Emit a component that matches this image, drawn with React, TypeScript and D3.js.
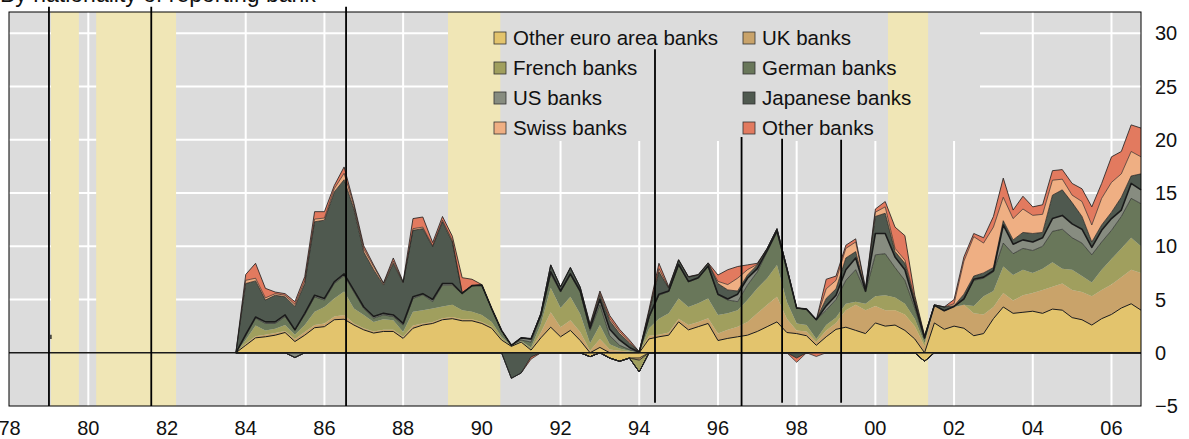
import * as d3 from "d3";

// quarterly observations, 1983 Q4 .. 2006 Q4
const quarters = d3.range(93).map((i) => 1983.75 + i * 0.25);

const otherEuro = [0, 0.7, 1.4, 1.5, 1.65, 1.9, 1.05, 1.65, 2.35, 2.45, 3.1, 3.15, 2.6, 2.15, 1.85, 2.0, 2.0, 1.35, 2.3, 2.6, 2.75, 3.1, 3.2, 3.0, 3.0, 2.75, 2.3, 1.2, 0.6, 1.0, 0.25, 1.4, 2.4, 1.5, 2.1, 1.15, -0.37, 0.5, -0.5, -0.8, -0.5, -0.5, 1.3, 1.5, 1.65, 2.9, 2.15, 2.45, 2.75, 1.15, 1.35, 1.5, 1.65, 2.0, 2.45, 2.9, 1.9, 1.8, 1.6, 0.7, 1.5, 2.2, 2.4, 2.1, 1.8, 2.8, 2.5, 2.6, 2.1, 1.3, -0.8, 2.8, 2.2, 2.5, 2.3, 1.6, 1.8, 3.2, 4.3, 3.7, 3.8, 3.9, 3.7, 4.1, 4.0, 3.3, 3.1, 2.6, 3.2, 3.6, 4.2, 4.6, 4.0];
const ukBanks = [0, 0.15, 0.15, 0.2, 0.2, 0.15, 0.25, 0.3, 0.25, 0.3, 0.3, 0.4, 0.15, 0.15, 0.15, 0.15, 0.15, 0.15, 0.25, 0.15, 0.15, 0.15, 0.15, 0.15, 0.15, 0.15, 0.15, 0.1, 0, 0.05, 0.05, 0.5, 1.4, 0.9, 0.95, 0.8, 0.2, 0.8, 0.3, 0.2, 0.1, -0.2, 0.3, 0.2, 0.25, 0.3, 0.45, 0.45, 0.5, 0.65, 0.8, 0.95, 1.25, 1.7, 2.05, 2.35, 1.3, 0.3, 0.4, 0.3, 0.6, 0.6, 1.6, 2.4, 2.2, 1.6, 1.5, 1.4, 1.5, 1.2, 0.6, 1.6, 1.7, 1.8, 2.2, 2.1, 1.8, 1.1, 1.3, 1.2, 1.6, 1.7, 2.2, 2.1, 2.5, 2.6, 2.6, 2.7, 2.7, 2.8, 2.9, 3.2, 3.5];
const frenchBanks = [0, 0.35, 1.0, 0.4, 0.4, 0.55, 0.4, 0.65, 1.25, 1.55, 1.7, 2.2, 1.4, 1.25, 0.9, 1.0, 0.9, 0.45, 1.3, 1.25, 1.25, 1.1, 1.15, 0.85, 0.7, 0.65, 0.45, 0.2, 0.05, 0.05, 0.2, 0.8, 2.3, 1.8, 2.2, 1.7, 0.7, 1.3, 0.5, 0.2, 0.1, -1.1, 0.7, 1.5, 1.8, 1.9, 1.7, 1.75, 1.85, 1.75, 1.55, 1.55, 2.05, 2.35, 2.5, 3.0, 1.6, 0.65, 0.6, 0.3, 0.5, 0.5, 0.6, 0.3, 0.6, 0.9, 1.4, 1.2, 1.0, 0.7, 0.3, 0, 0, 0, 0, 0.7, 1.7, 1.5, 2.5, 2.4, 2.4, 1.9, 2.0, 2.3, 1.4, 1.9, 1.5, 1.3, 1.9, 2.4, 2.7, 3.0, 2.5];
const germanBanks = [0, 0.4, 0.7, 0.65, 0.5, 0.8, 0.45, 0.95, 1.4, 0.65, 1.4, 1.5, 1.55, 0.6, 0.35, 0.4, 0.35, 0.65, 1.25, 1.45, 0.65, 2.0, 1.85, 1.55, 2.45, 2.8, 1.25, 0.6, 0.05, 0.1, 0.5, 0.8, 1.3, 1.5, 2.05, 2.05, 1.2, 1.9, 0.8, 0.3, 0.1, 0.05, 1.0, 2.2, 2.05, 3.15, 2.35, 2.35, 3.0, 1.9, 1.25, 0.8, 1.4, 1.55, 2.5, 3.1, 3.0, 1.45, 1.5, 1.8, 1.4, 1.7, 2.2, 3.0, 1.1, 3.9, 3.9, 2.8, 2.2, 1.0, 0.4, 0.05, 0.05, 0.05, 0.5, 2.4, 1.7, 1.8, 2.2, 2.0, 2.0, 2.1, 2.1, 2.9, 3.7, 3.0, 3.1, 2.6, 2.6, 2.7, 3.0, 3.7, 4.0];
const usBanks = [0, 0.1, 0.1, 0.15, 0.15, 0.15, -0.45, 0.15, 0.15, 0.15, 0.15, 0.15, 0.15, 0.15, 0.15, 0.15, 0.15, 0.15, 0.15, 0.1, 0.2, 0.15, 0.15, 0.02, 0, 0, 0, 0, 0, 0.2, 0.3, 0.05, 0.2, 0.1, 0.1, 0.1, 0.2, 0.5, 0.6, 0.5, 0.2, 0, 0.1, 0.1, 0.05, 0.05, 0.05, 0.05, 0.05, 0.05, 0.1, 0.7, 0.65, 0.3, 0.1, 0.1, 0.1, 0, 0, 0, 0.4, 0.4, 1.0, 1.1, 0.1, 2.0, 1.9, 1.0, 1.0, 0.4, 0.1, 0, 0, 0, 0.05, 0.1, 0.1, 0.1, 1.7, 0.9, 0.8, 0.8, 0.8, 1.2, 1.3, 1.3, 1.3, 0.7, 1.1, 1.1, 0.6, 1.4, 1.3];
const japaneseBanks = [0, 4.8, 3.4, 2.05, 2.5, 1.7, 2.2, 2.8, 6.9, 7.35, 8.45, 8.85, 7.65, 5.15, 4.4, 2.65, 4.85, 3.8, 6.25, 6.1, 4.95, 5.8, 3.9, 0.05, 0, 0, 0, 0, -2.4, -1.9, -0.4, 0.15, 0.65, 0.4, 0.6, 0.35, 0.2, 0.4, 0.8, 0.6, 0.4, 0.05, 0.4, 2.1, 0.25, 0.4, 0.4, 0.25, 0.25, 1.0, 0.85, 0.3, 0.3, 0.35, 0.2, 0.2, 0.1, -0.5, 0, 0, 0.7, 0.6, 1.1, 0.6, 0.1, 1.6, 1.9, 0.5, 0.6, 0.3, 0.1, 0.05, 0.35, 0.05, 0.45, 0.3, 0.4, 0.3, 0.4, 0.4, 0.7, 0.8, 0.5, 2.2, 2.4, 2.0, 1.2, 0.5, 0.5, 0.6, 1.2, 0.7, 1.5];
const swissBanks = [0, 0.3, 0.25, 0.2, 0.15, 0.15, 0.2, 0.25, 0.25, 0.2, 0.3, 0.6, 0.3, 0.3, 0.3, 0.15, 0.2, 0.07, 0.15, 0.15, 0.1, 0.15, 0.15, 0.03, 0, 0, 0, 0, 0, 0, 0, 0, 0, 0, 0, 0, 0.1, 0.2, 0.2, 0.2, 0.1, 0, 0.1, 0.3, 0.05, 0.02, 0.02, 0.02, 0.02, 0.2, 0.5, 1.2, 0.5, 0.05, 0, 0, 0, 0, 0, 0, 0.9, 0.8, 0.9, 0.9, 0.1, 0.4, 0.6, 0.3, 0.3, 0.2, 0.05, 0, 0, 0.2, 3.1, 3.7, 2.8, 3.8, 2.2, 2.0, 2.2, 1.7, 1.7, 1.4, 1.0, 0.7, 1.4, 1.6, 2.5, 2.8, 2.2, 2.3, 1.6];
const otherBanks = [0, 0.55, 1.4, 0.9, 0.15, 0.15, 0.25, 0.4, 0.7, 0.6, 0.3, 0.6, 0.2, 0.3, 0.15, 0.05, 0.3, 0.05, 0.95, 0.95, 0.3, 0.35, 0.4, 1.4, 0.6, 0.05, 0, 0, 0, 0, -0.2, 0, 0, 0, 0, 0, 0.1, 0.2, 0.3, 0.2, 0.2, 0, 0.2, 0.5, 0.1, 0.03, 0.03, 0.03, 0.03, 0.6, 1.4, 1.1, 0.45, 0.1, 0, 0, 0, -0.4, 0, -0.35, 0.9, 0.4, 0.3, 0.3, 0.05, 0.3, 0.5, 2.0, 2.3, 0.3, 0.05, 0, 0, 0.4, 0.4, 0.3, 0.5, 1.0, 1.8, 0.8, 1.2, 0.8, 0.9, 0.9, 0.9, 1.1, 1.2, 1.7, 1.4, 2.4, 2.1, 2.5, 2.7];

const seriesNames = ["Other euro area banks", "UK banks", "French banks", "German banks", "US banks", "Japanese banks", "Swiss banks", "Other banks"];
const seriesValues = [otherEuro, ukBanks, frenchBanks, germanBanks, usBanks, japaneseBanks, swissBanks, otherBanks];
const seriesColors = ["#e3c46d", "#c9a36a", "#a09f5e", "#69775a", "#878c80", "#4f594f", "#efaf83", "#e27a5f"];
// outline drawn on the top edge of each layer (0 = none)
const topLines = [1, 0, 0, 0.6, 1.6, 0.7, 0.6, 0.8];

const yearTicks = d3.range(1978, 2007, 2);
const valueTicks = [30, 25, 20, 15, 10, 5, 0, -5];
const shadedPeriods = [[1979.05, 1979.76], [1980.2, 1982.23], [1989.14, 1990.47], [2000.32, 2001.34]];
const eventDates = [1979.0, 1981.6, 1986.55, 1994.4, 1996.6, 1997.63, 1999.13];
const eventTops = [32.5, 32.5, 32.5, 28.5, 20.25, 20.1, 20.0];
const eventBottoms = [-5, -5, -5, -4.7, -5, -4.7, -4.7];

const font = "'Liberation Sans', Arial, sans-serif";

export default function App() {
  const width = 1189;
  const height = 439;
  const left = 9, right = 1141, top = 12, bottom = 406;

  const x = d3.scaleLinear().domain([1978, 2006.75]).range([9.6, 1141]);
  const y = d3.scaleLinear().domain([-5, 32]).range([bottom, top]);

  const keys = seriesNames;
  const table = quarters.map((q, i) => {
    const row: any = { q };
    keys.forEach((k, j) => (row[k] = seriesValues[j][i]));
    return row;
  });
  const pos = d3.stack<any>().keys(keys).value((d, k) => Math.max(0, d[k]))(table);
  const neg = d3.stack<any>().keys(keys).value((d, k) => Math.min(0, d[k]))(table);

  const area = d3
    .area<any>()
    .x((d) => x(d.data.q))
    .y0((d) => y(d[0]))
    .y1((d) => y(d[1]));
  const topLine = d3
    .line<any>()
    .x((d) => x(d.data.q))
    .y((d) => y(d[1]));

  const legendRows = seriesNames.map((name, i) => ({
    name,
    color: seriesColors[i],
    col: i % 2,
    row: Math.floor(i / 2),
  }));

  return (
    <svg width={width} height={height} style={{ position: "absolute", left: 0, top: 0 }} fontFamily={font}>
      <rect x={left} y={top} width={right - left} height={bottom - top} fill="#dcdcdc" />
      {yearTicks.filter((t) => t > 1978).map((t) => (
        <line key={"vx" + t} x1={x(t)} x2={x(t)} y1={top} y2={bottom} stroke="#fff" strokeWidth={2} />
      ))}
      {valueTicks.filter((v) => v > 0).map((v) => (
        <line key={"hy" + v} x1={left} x2={right} y1={y(v)} y2={y(v)} stroke="#fff" strokeWidth={2} />
      ))}
      {/* legend backdrop hides the grid */}
      <rect x={486} y={top} width={494} height={129} fill="#dcdcdc" />
      {shadedPeriods.map(([a, b], i) => (
        <rect key={"sh" + i} x={x(a)} y={top} width={x(b) - x(a)} height={bottom - top} fill="#f0e6b6" />
      ))}

      {pos.map((s, i) => (
        <path key={"p" + i} d={area(s) || ""} fill={seriesColors[i]} />
      ))}
      {neg.map((s, i) =>
        seriesValues[i].some((v) => v < 0) ? (
          <path key={"n" + i} d={area(s) || ""} fill={seriesColors[i]} stroke="#222" strokeWidth={0.7} />
        ) : null
      )}
      {pos.map((s, i) =>
        topLines[i] > 0 ? (
          <path key={"l" + i} d={topLine(s) || ""} fill="none" stroke="#1a1a1a" strokeWidth={topLines[i]} strokeLinejoin="round" />
        ) : null
      )}
      <line x1={left} x2={right} y1={y(0)} y2={y(0)} stroke="#1a1a1a" strokeWidth={1.6} />

      {eventDates.map((t, i) => (
        <line key={"ev" + i} x1={x(t)} x2={x(t)} y1={y(eventTops[i])} y2={y(eventBottoms[i])} stroke="#000" strokeWidth={1.8} />
      ))}
      <line x1={x(1979.05)} x2={x(1979.05)} y1={y(1.7)} y2={y(1.3)} stroke="#000" strokeWidth={1.2} />

      <rect x={left} y={top} width={right - left} height={bottom - top} fill="none" stroke="#000" strokeWidth={1} />

      {legendRows.map((r) => {
        const lx = r.col === 0 ? 494 : 743;
        const cy = 38 + r.row * 30;
        return (
          <g key={r.name}>
            <rect x={lx} y={cy - 6} width={12} height={12} fill={r.color} stroke="#333" strokeWidth={0.8} />
            <text x={lx + 19} y={cy + 7} fontSize={20.5} fill="#111">
              {r.name}
            </text>
          </g>
        );
      })}

      {yearTicks.map((t) => (
        <text key={"xt" + t} x={x(t)} y={435} fontSize={20} textAnchor="middle" fill="#111">
          {String(t % 100).padStart(2, "0")}
        </text>
      ))}
      {valueTicks.map((v) => (
        <text key={"yt" + v} x={1155} y={y(v) + 7} fontSize={20} fill="#111">
          {v < 0 ? "\u2212" + Math.abs(v) : String(v)}
        </text>
      ))}
      <text x={0} y={2} fontSize={23} fill="#111">
        By nationality of reporting bank
      </text>
    </svg>
  );
}
